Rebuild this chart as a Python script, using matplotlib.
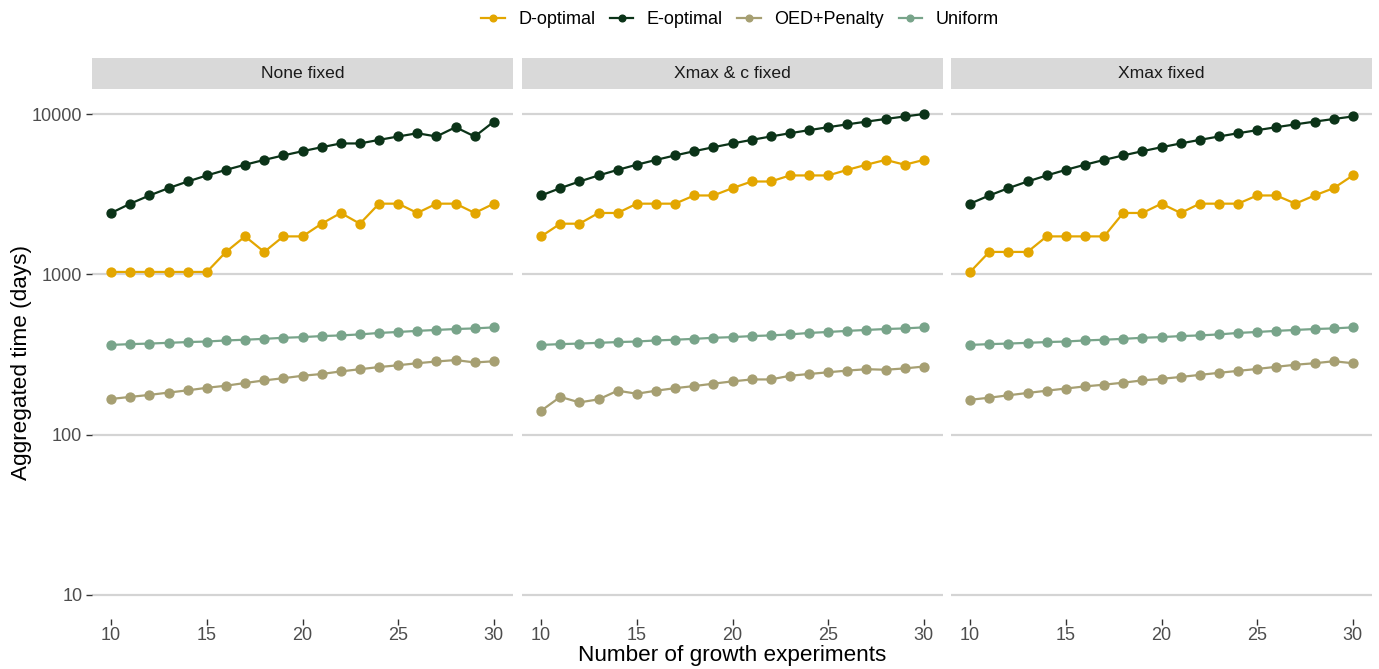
import matplotlib
matplotlib.use("Agg")
from matplotlib import pyplot as plt
from matplotlib.ticker import FixedLocator, NullLocator

plt.rcParams['font.family'] = ['Liberation Sans', 'DejaVu Sans']

experiments = list(range(10, 31))
panels = ["None fixed", "Xmax & c fixed", "Xmax fixed"]
methods = ["D-optimal", "E-optimal", "OED+Penalty", "Uniform"]
colors = {
  "D-optimal": "#E3A600",
  "E-optimal": "#0B3318",
  "OED+Penalty": "#A69F72",
  "Uniform": "#78A48A",
}

# aggregated time (days)
d_none = [1035, 1035, 1035, 1035, 1035, 1035, 1380, 1725, 1380, 1725, 1725,
          2070, 2415, 2070, 2760, 2760, 2415, 2760, 2760, 2415, 2760]
e_none = [2415, 2760, 3105, 3450, 3795, 4140, 4485, 4830, 5175, 5520, 5865,
          6210, 6555, 6555, 6900, 7245, 7590, 7245, 8280, 7245, 8970]
oed_none = [167, 172, 177, 183, 189, 196, 202, 210, 218, 225, 233,
            239, 248, 256, 264, 271, 279, 286, 292, 282, 287]
uni_none = [363, 367, 370, 374, 378, 381, 387, 391, 396, 402, 406,
            412, 416, 422, 431, 437, 444, 450, 456, 460, 467]

d_xc = [1725, 2070, 2070, 2415, 2415, 2760, 2760, 2760, 3105, 3105, 3450,
        3795, 3795, 4140, 4140, 4140, 4485, 4830, 5175, 4830, 5175]
e_xc = [3105, 3450, 3795, 4140, 4485, 4830, 5175, 5520, 5865, 6210, 6555,
        6900, 7245, 7590, 7935, 8280, 8625, 8970, 9315, 9660, 10005]
oed_xc = [141, 172, 159, 166, 188, 180, 188, 195, 201, 208, 215,
          221, 221, 233, 239, 245, 251, 256, 254, 259, 266]
uni_xc = [363, 367, 370, 374, 378, 381, 387, 391, 396, 402, 406,
          412, 416, 422, 431, 437, 444, 450, 456, 460, 467]

d_x = [1035, 1380, 1380, 1380, 1725, 1725, 1725, 1725, 2415, 2415, 2760,
       2415, 2760, 2760, 2760, 3105, 3105, 2760, 3105, 3450, 4140]
e_x = [2760, 3105, 3450, 3795, 4140, 4485, 4830, 5175, 5520, 5865, 6210,
       6555, 6900, 7245, 7590, 7935, 8280, 8625, 8970, 9315, 9660]
oed_x = [165, 170, 176, 182, 188, 194, 200, 205, 211, 218, 223,
         229, 236, 243, 250, 257, 265, 273, 279, 287, 279]
uni_x = [363, 367, 370, 374, 378, 381, 387, 391, 396, 402, 406,
         412, 416, 422, 431, 437, 444, 450, 456, 460, 467]

panel_data = [
  [d_none, e_none, oed_none, uni_none],
  [d_xc, e_xc, oed_xc, uni_xc],
  [d_x, e_x, oed_x, uni_x],
]

y_ticks = [10, 100, 1000, 10000]
x_ticks = [10, 15, 20, 25, 30]

W, H = 1379, 669
fig = plt.figure(figsize=(W / 100, H / 100), dpi=100)

lefts = [92, 522, 951]
panel_w = 421
top_px, bottom_px = 90, 619
strip_h = 31

handles = []
for i, title in enumerate(panels):
  ax = fig.add_axes([lefts[i] / W, 1 - bottom_px / H, panel_w / W, (bottom_px - top_px) / H])
  for j, m in enumerate(methods):
    line, = ax.plot(experiments, panel_data[i][j], color=colors[m], lw=1.6,
                    marker='o', markersize=6.4, label=m, zorder=3)
    if i == 0:
      handles.append(line)
  ax.set_yscale('log')
  ax.set_ylim(10 ** 0.85, 10 ** 4.15)
  ax.set_xlim(9, 31)
  ax.yaxis.set_major_locator(FixedLocator(y_ticks))
  ax.yaxis.set_minor_locator(NullLocator())
  ax.xaxis.set_major_locator(FixedLocator(x_ticks))
  ax.grid(axis='y', which='major', color='#D4D4D4', lw=1.6)
  ax.set_axisbelow(True)
  for s in ax.spines.values():
    s.set_visible(False)
  ax.tick_params(axis='both', colors='#333333', length=4, width=1, labelsize=13,
                 labelcolor='#4D4D4D', pad=3)
  ax.tick_params(axis='x', pad=2)
  if i == 0:
    ax.set_yticklabels([str(t) for t in y_ticks])
  else:
    ax.tick_params(axis='y', left=False, labelleft=False)

  strip = fig.add_axes([lefts[i] / W, 1 - (top_px - 1) / H, panel_w / W, strip_h / H])
  strip.set_facecolor('#D9D9D9')
  strip.set_xticks([])
  strip.set_yticks([])
  for s in strip.spines.values():
    s.set_visible(False)
  strip.text(0.5, 0.5, title, ha='center', va='center', fontsize=12.6, color='#1A1A1A',
             transform=strip.transAxes)

fig.text(0.5 * (92 + 1372) / W, 1 - 655 / H, "Number of growth experiments", ha='center',
         va='center', fontsize=16.2, color='#000000')
fig.text(22 / W, 1 - 363 / H, "Aggregated time (days)", ha='center', va='center',
         rotation=90, fontsize=16.2, color='#000000')

fig.legend(handles=handles, labels=methods, loc='center', bbox_to_anchor=(740 / W, 1 - 20 / H),
           ncol=4, frameon=False, fontsize=13, handlelength=1.3, handletextpad=0.75,
           columnspacing=0.8, markerscale=0.75)

fig.savefig("out.png", dpi=100)
